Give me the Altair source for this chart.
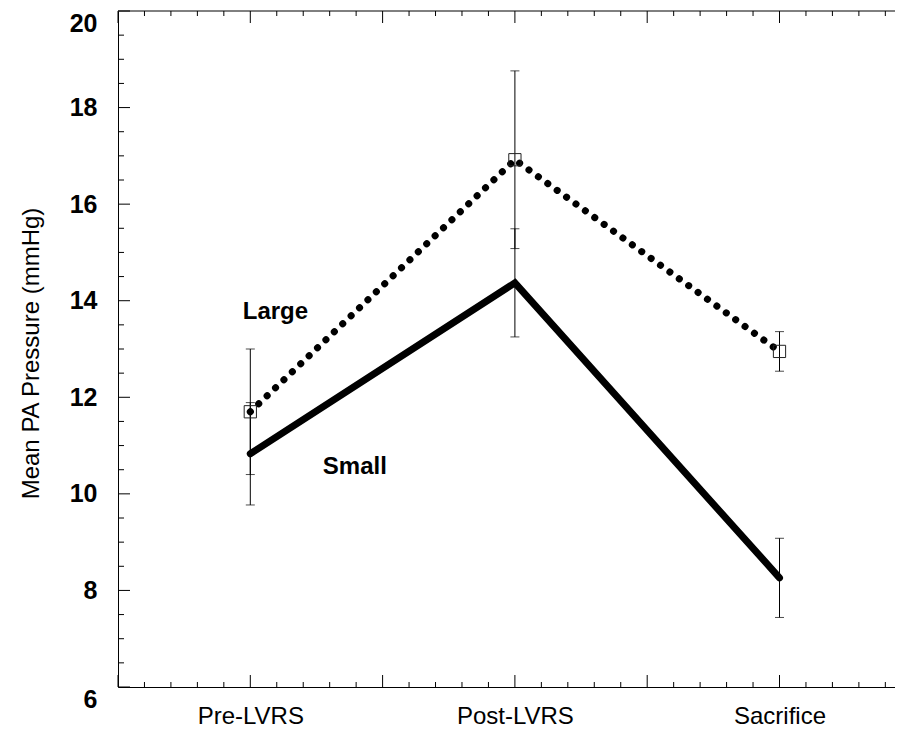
import altair as alt
import pandas as pd
import numpy as np

# ---- data ----
categories = ["Pre-LVRS", "Post-LVRS", "Sacrifice"]
cat_pos = [1, 3, 5]
large_mean = [11.70, 16.92, 12.95]
large_err = [1.30, 1.84, 0.41]
small_mean = [10.83, 14.37, 8.26]
small_err = [1.06, 1.12, 0.82]
label_text = ["Large", "Small"]
label_x = [1.19, 1.79]
label_y = [13.77, 10.56]

y_major = [6, 8, 10, 12, 14, 16, 18, 20]
y_minor = [v for v in np.arange(6, 20.01, 0.5) if v % 2 != 0]
x_major = [0, 1, 2, 3, 4, 5]

W, H = 777, 676
XMAX = W / 132.3
x_minor = [round(v, 2) for v in np.arange(0, XMAX, 0.2) if abs(v - round(v)) > 1e-6]

FONT = "Liberation Sans"

xs = alt.Scale(domain=[0, XMAX], nice=False, zero=False)
ys = alt.Scale(domain=[6, 20], nice=False, zero=False)

rows = []
for g, m, e in (("Large", large_mean, large_err), ("Small", small_mean, small_err)):
    for i, c in enumerate(categories):
        rows.append(dict(cat=c, pos=cat_pos[i], group=g, mean=m[i],
                         lo=m[i] - e[i], hi=m[i] + e[i]))
df = pd.DataFrame(rows)
df_large = df[df.group == "Large"]
df_small = df[df.group == "Small"]

label_expr = " : ".join(
    f"datum.value == {p} ? '{c}'" for p, c in zip(cat_pos[:-1], categories[:-1])
) + f" : '{categories[-1]}'"

x_axis = alt.Axis(values=cat_pos, labelExpr=label_expr, ticks=False, tickSize=0,
                  domain=True, domainColor="black", domainWidth=1, grid=False,
                  labelFont=FONT, labelFontSize=24, labelColor="black",
                  labelBaseline="alphabetic", labelPadding=36, title=None)
y_axis = alt.Axis(values=y_major, ticks=False, tickSize=0, domain=True,
                  domainColor="black", domainWidth=1, grid=False,
                  labelFont=FONT, labelFontSize=25, labelFontWeight="bold",
                  labelColor="black", labelPadding=21,
                  labelBaseline={"condition": {"test": "datum.value == 20 || datum.value == 6",
                                               "value": "top"},
                                 "value": "middle"},
                  title="Mean PA Pressure (mmHg)", titleFont=FONT,
                  titleFontSize=24, titleFontWeight="normal", titleColor="black",
                  titleX=-87, titleY=H / 2 + 4, titleAngle=-90,
                  titleAlign="center", titleBaseline="middle")

# error bars
err = alt.Chart(df).mark_rule(color="black", strokeWidth=1).encode(
    x=alt.X("pos:Q", scale=xs, axis=x_axis),
    y=alt.Y("lo:Q", scale=ys, axis=y_axis),
    y2="hi:Q",
)
cap_lo = alt.Chart(df).mark_tick(color="black", orient="horizontal", size=9, thickness=1).encode(
    x=alt.X("pos:Q", scale=xs), y=alt.Y("lo:Q", scale=ys))
cap_hi = alt.Chart(df).mark_tick(color="black", orient="horizontal", size=9, thickness=1).encode(
    x=alt.X("pos:Q", scale=xs), y=alt.Y("hi:Q", scale=ys))

small_line = alt.Chart(df_small).mark_line(
    color="black", strokeWidth=7, strokeJoin="miter", strokeCap="round").encode(
    x=alt.X("pos:Q", scale=xs), y=alt.Y("mean:Q", scale=ys), order="pos:Q")
large_line = alt.Chart(df_large).mark_line(
    color="black", strokeWidth=7, strokeDash=[0.1, 11.5], strokeCap="round").encode(
    x=alt.X("pos:Q", scale=xs), y=alt.Y("mean:Q", scale=ys), order="pos:Q")
large_pts = alt.Chart(df_large).mark_point(
    shape="square", size=150, filled=False, stroke="#222", strokeWidth=1, opacity=1).encode(
    x=alt.X("pos:Q", scale=xs), y=alt.Y("mean:Q", scale=ys))

labels = alt.Chart(pd.DataFrame({"t": label_text, "x": label_x, "y": label_y})).mark_text(
    font=FONT, fontSize=24, fontWeight="bold", color="black").encode(
    x=alt.X("x:Q", scale=xs), y=alt.Y("y:Q", scale=ys), text="t:N")

# tick marks (inward)
def xticks(vals, length, top):
    d = pd.DataFrame({"v": vals})
    if top:
        enc = dict(y=alt.value(0), y2=alt.value(length))
    else:
        enc = dict(y=alt.value(H), y2=alt.value(H - length))
    return alt.Chart(d).mark_rule(color="black", strokeWidth=1).encode(
        x=alt.X("v:Q", scale=xs), **enc)

def yticks(vals, length):
    d = pd.DataFrame({"v": vals})
    return alt.Chart(d).mark_rule(color="black", strokeWidth=1).encode(
        y=alt.Y("v:Q", scale=ys), x=alt.value(0), x2=alt.value(length))

top_border = alt.Chart(pd.DataFrame({"a": [0]})).mark_rule(color="black", strokeWidth=1).encode(
    x=alt.value(0), x2=alt.value(W), y=alt.value(0))

chart = alt.layer(
    err, cap_lo, cap_hi,
    xticks(x_major, 12, False), xticks(x_minor, 5, False),
    xticks(x_major, 12, True), xticks(x_minor, 5, True),
    yticks(y_major, 12), yticks(y_minor, 6),
    top_border,
    small_line, large_line, large_pts, labels,
).properties(
    width=W, height=H,
    autosize=alt.AutoSizeParams(type="none"),
    padding={"left": 110, "top": 3, "right": 0, "bottom": 42},
    background="white",
).configure_view(stroke=None)

chart.save("out.html", embed_options={"renderer": "svg", "actions": False})
